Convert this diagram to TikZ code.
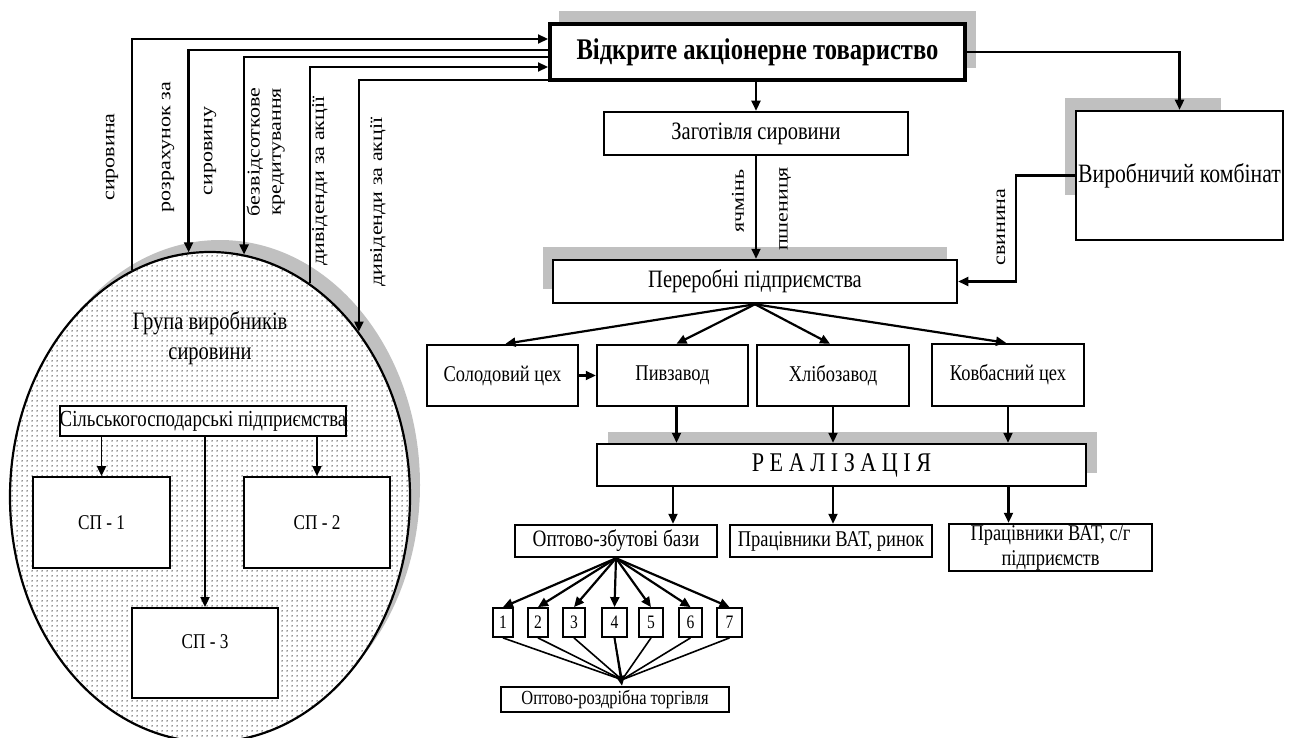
\documentclass[tikz,border=0pt]{standalone}
\usepackage{fontspec}
\setmainfont{Liberation Serif}[FakeStretch=0.82]
\newfontfamily\vfont{Liberation Serif}
\usetikzlibrary{shapes.geometric,arrows.meta,patterns.meta,calc}
\definecolor{shd}{HTML}{C0C0C0}
\newcommand\fsz[2]{\fontsize{#1}{#2}\selectfont}
\tikzdeclarepattern{
  name=mydots, type=uncolored,
  bounding box={(0pt,0pt) and (5pt,5pt)},
  tile size={(5pt,5pt)},
  code={\fill (2.5pt,2.5pt) circle (0.85pt);}
}
\begin{document}
\begin{tikzpicture}[x=1pt,y=-1pt,
  box/.style={draw, line width=2.5pt, fill=white, inner sep=0pt, align=center, font=\fsz{24}{27}},
  sbox/.style={draw, line width=1.8pt, fill=white, inner sep=0pt, align=center, font=\fsz{21}{24}},
  nbox/.style={draw, line width=1.8pt, fill=white, inner sep=0pt, minimum height=29pt, font=\fsz{19}{21}},
  arr/.style={line width=2.2pt, -{Triangle[length=10pt,width=9pt]}},
  thinarr/.style={line width=1.9pt, -{Triangle[length=10pt,width=9pt]}},
  ln/.style={line width=1.6pt},
  lbl/.style={rotate=90, inner sep=0pt, align=center, font=\vfont\fsz{22}{26}},
  grpstyle/.style={ellipse, draw, line width=2.2pt, minimum width=400pt, minimum height=490pt, inner sep=0pt, preaction={fill=white}, pattern=mydots, pattern color=black!85},
  shadow/.style={fill=shd}
]
\useasboundingbox (0,0) rectangle (1290,738);

% shadows
\fill[shadow] (559,11) rectangle (976,68);
\fill[shadow] (1065,98) rectangle (1221,195);
\fill[shadow] (543,247) rectangle (947,289);
\fill[shadow] (608,432) rectangle (1097,473);
\fill[shadow] (220,485) ellipse [x radius=200, y radius=245];

% group ellipse
\node[grpstyle] (grp) at (210,497) {};
\node[font=\fsz{25}{30}, align=center, inner sep=0pt] (grptxt) at (210,338) {Група виробників\\сировини};

% group inner boxes
\node[sbox, minimum width=282pt, minimum height=30pt, font=\fsz{23}{26}] (sg) at (203,421) {Сільськогосподарські підприємства};
\node[sbox, minimum width=137pt, minimum height=91pt] (sp1) at (101.5,522.5) {СП - 1};
\node[sbox, minimum width=146pt, minimum height=91pt] (sp2) at (317,522.5) {СП - 2};
\node[sbox, minimum width=146pt, minimum height=90pt] (sp3) at (205,653) {};
\node[font=\fsz{21}{24}, inner sep=0pt] (sp3t) at (205,642) {СП - 3};
\draw[thinarr] (sp1.north |- sg.south) -- (sp1.north);
\draw[thinarr] (sp2.north |- sg.south) -- (sp2.north);
\draw[thinarr] (sp3.north |- sg.south) -- (sp3.north);

% main boxes
\node[box, line width=4pt, minimum width=415pt, minimum height=56pt, font=\bfseries\fsz{30}{34}] (oat) at (757.5,52) {Відкрите акціонерне товариство};
\node[box, minimum width=304pt, minimum height=43pt, font=\fsz{25}{28}] (zag) at (756,133.5) {Заготівля сировини};
\node[box, minimum width=207pt, minimum height=129pt, font=\fsz{26.5}{30}] (vk) at (1179.5,175.5) {Виробничий комбінат};
\node[box, minimum width=404pt, minimum height=43pt, font=\fsz{25}{28}] (per) at (755,281.5) {Переробні підприємства};
\node[box, minimum width=151pt, minimum height=61pt, font=\fsz{22.5}{26}] (sol) at (502.5,375.5) {Солодовий цех};
\node[box, minimum width=151pt, minimum height=61pt, font=\fsz{22.5}{26}] (piv) at (672.5,375.5) {Пивзавод};
\node[box, minimum width=152pt, minimum height=61pt, font=\fsz{22.5}{26}] (hlib) at (833,375.5) {Хлібозавод};
\node[box, minimum width=152pt, minimum height=62pt, font=\fsz{22.5}{26}] (kovb) at (1008,375) {Ковбасний цех};
\node[box, minimum width=489pt, minimum height=42pt, font=\fsz{27}{30}] (real) at (841.5,465) {Р Е А Л І З А Ц І Я};
\node[box, minimum width=202pt, minimum height=32pt, font=\fsz{23.5}{26}] (ozb) at (616,541) {Оптово-збутові бази};
\node[box, minimum width=202pt, minimum height=32pt, font=\fsz{22.5}{26}] (prr) at (831,541) {Працівники ВАТ, ринок};
\node[box, minimum width=203pt, minimum height=47pt, font=\fsz{22.5}{25}] (prs) at (1050.5,547.5) {Працівники ВАТ, с/г\\підприємств};
\node[box, minimum width=228pt, minimum height=25pt, font=\fsz{20}{23}] (ort) at (615,699.5) {Оптово-роздрібна торгівля};

\foreach \i/\x/\w in {1/503/20,2/538/20,3/574/22,4/614.5/25,5/651/24,6/690.5/23,7/729.5/25}{
  \node[nbox, minimum width=\w pt] (n\i) at (\x,622.5) {\i};
}

% connectors in main flow
\draw[arr] (zag.north |- oat.south) -- (zag.north);
\draw[arr] (oat.east) -| (vk.north);
\draw[arr] (vk.west) -- ++(-59,0) |- (per.east);
\draw[arr] (zag.south) -- (zag.south |- per.north);
\draw[arr] (per.south) -- ([xshift=3pt]sol.north);
\draw[arr] (per.south) -- ([xshift=4pt]piv.north);
\draw[arr] (per.south) -- ([xshift=-3pt]hlib.north);
\draw[arr] (per.south) -- ([xshift=-2pt]kovb.north);
\draw[arr] (sol.east) -- (piv.west);
\draw[arr] ([xshift=4pt]piv.south) -- ([xshift=4pt]piv.south |- real.north);
\draw[arr] (hlib.south) -- (hlib.south |- real.north);
\draw[arr] (kovb.south) -- (kovb.south |- real.north);
\draw[arr] ([xshift=57pt]ozb.north |- real.south) -- ([xshift=57pt]ozb.north);
\draw[arr] ([xshift=2pt]prr.north |- real.south) -- ([xshift=2pt]prr.north);
\draw[arr] ([xshift=-42pt]prs.north |- real.south) -- ([xshift=-42pt]prs.north);
\coordinate (conv) at ([xshift=7pt]ort.north);
\foreach \i in {1,...,7}{
  \draw[arr] (ozb.south) -- (n\i.north);
  \draw[ln] (n\i.south) -- ([yshift=6pt]conv);
}
\draw[thinarr] (n4.south) -- (conv);

% connectors between group and OAT
\draw[arr] (grp.109) |- ([yshift=13pt]oat.west);
\draw[arr] ([yshift=2pt]oat.west) -| (grp.95.4);
\draw[arr] ([yshift=-5pt]oat.west) -| (grp.82.5);
\draw[arr] (grp.65.6) |- ([yshift=-15pt]oat.west);
\draw[arr] ([yshift=-28pt]oat.west) -| (grp.48.1);

% labels
\node[lbl] (l1) at (112,157) {\scalebox{1}[0.82]{сировина}};
\node[lbl] (l2) at (168,147) {\scalebox{1}[0.82]{розрахунок за}};
\node[lbl] (l3) at (210,151) {\scalebox{1}[0.82]{сировину}};
\node[lbl] (l4) at (266,152) {\scalebox{1}[0.82]{\begin{tabular}{@{}c@{}}безвідсоткове\\кредитування\end{tabular}}};
\node[lbl] (l5) at (320,181) {\scalebox{1}[0.82]{дивіденди за акції}};
\node[lbl] (l6) at (378,202) {\scalebox{1}[0.82]{дивіденди за акції}};
\node[lbl] (l7) at (738,201) {\scalebox{1}[0.82]{ячмінь}};
\node[lbl] (l8) at (785,209) {\scalebox{1}[0.82]{пшениця}};
\node[lbl] (l9) at (1001,227) {\scalebox{1}[0.82]{свинина}};
\end{tikzpicture}
\end{document}
